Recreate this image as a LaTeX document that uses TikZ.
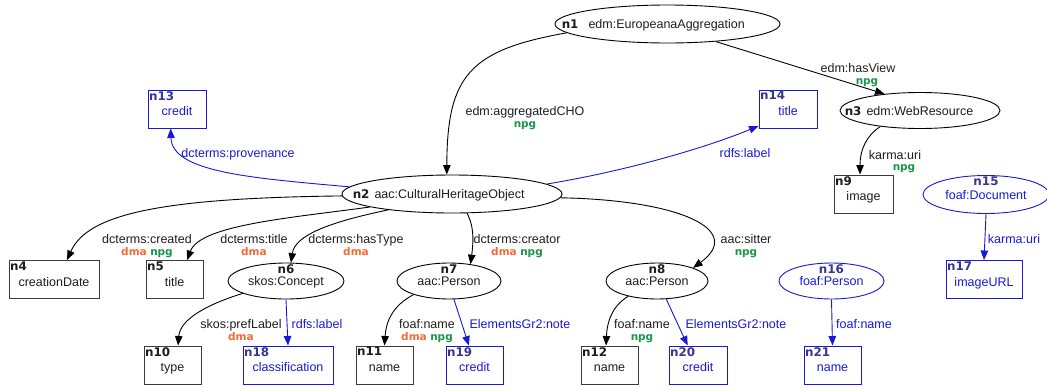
\documentclass[tikz,border=0pt]{standalone}
\usepackage{fontspec}
\setmainfont{Liberation Sans}
\newfontfamily\dvsans{DejaVu Sans}
\usetikzlibrary{shapes.geometric,arrows.meta}

\definecolor{ink}{RGB}{30,30,30}
\definecolor{linkblue}{RGB}{25,25,215}
\definecolor{idnavy}{RGB}{55,55,140}
\definecolor{dmaorange}{RGB}{245,105,55}
\definecolor{npggreen}{RGB}{25,150,70}
\definecolor{boxgray}{RGB}{60,60,60}

\newcommand{\rdffont}{\fontsize{12.5}{14}\selectfont}
\newcommand{\edgefont}{\fontsize{12.5}{11.5}\selectfont}
\newcommand{\nid}[1]{{\dvsans\bfseries\fontsize{11.9}{12}\selectfont\color{ink}#1}}
\newcommand{\nidb}[1]{{\dvsans\bfseries\fontsize{11.9}{12}\selectfont\color{idnavy}#1}}
\newcommand{\srcdma}{{\dvsans\bfseries\fontsize{10.5}{11.5}\selectfont\color{dmaorange}dma}}
\newcommand{\srcnpg}{{\dvsans\bfseries\fontsize{10.5}{11.5}\selectfont\color{npggreen}npg}}

\begin{document}
\begin{tikzpicture}[x=1pt,y=1pt,
  classnode/.style={ellipse, draw=black, line width=0.9pt, inner sep=0pt,
    text height=11pt, text depth=2pt, font=\rdffont, text=ink},
  bclassnode/.style={classnode, draw=linkblue, text=linkblue},
  litnode/.style={rectangle, draw=boxgray, line width=0.95pt, minimum height=38pt,
    inner sep=0pt, text height=15pt, text depth=2pt, font=\rdffont, text=ink},
  blitnode/.style={litnode, draw=linkblue, text=linkblue},
  idcorner/.style={anchor=north west, inner sep=1.5pt},
  idtop/.style={anchor=north, inner sep=0pt, yshift=-2pt},
  hdr/.style={anchor=west, inner sep=0pt, text height=11pt, text depth=2pt,
    font=\rdffont, text=ink},
  elab/.style={anchor=north, inner sep=0pt, align=center, font=\edgefont, text=ink},
  belab/.style={elab, text=linkblue},
  rel/.style={line width=0.9pt, draw=black, -{Triangle[length=9.5pt,width=7.5pt]}},
  brel/.style={rel, draw=linkblue},
]
\fill[white] (0,0) rectangle (1047,-389);
\useasboundingbox (0,0) rectangle (1047,-389);

% resource classes
\node[classnode, minimum width=225pt, minimum height=38pt,
  label={[hdr, xshift=7pt]west:\nid{n1}\hspace{10pt}edm:EuropeanaAggregation}] (n1) at (667.5,-24) {};
\node[classnode, minimum width=220pt, minimum height=38pt,
  label={[hdr, xshift=11pt]west:\nid{n2}\hspace{5pt}aac:CulturalHeritageObject}] (n2) at (452,-194) {};
\node[classnode, minimum width=160pt, minimum height=36pt,
  label={[hdr, xshift=5pt]west:\nid{n3}\hspace{5pt}edm:WebResource}] (n3) at (920,-110.5) {};
\node[classnode, minimum width=116pt, minimum height=36pt,
  label={[idtop]north:\nid{n6}}] (n6) at (286,-281) {skos:Concept};
\node[classnode, minimum width=104pt, minimum height=36pt,
  label={[idtop]north:\nid{n7}}] (n7) at (449,-281) {aac:Person};
\node[classnode, minimum width=102pt, minimum height=36pt,
  label={[idtop]north:\nid{n8}}] (n8) at (657,-281) {aac:Person};
\node[bclassnode, minimum width=126pt, minimum height=38pt,
  label={[idtop]north:\nidb{n15}}] (n15) at (986,-194.5) {foaf:Document};
\node[bclassnode, minimum width=105pt, minimum height=36pt,
  label={[idtop]north:\nidb{n16}}] (n16) at (831.5,-281) {foaf:Person};

% literal values
\node[blitnode, minimum width=58pt, label={[idcorner]north west:\nidb{n13}}] (n13) at (177,-109) {credit};
\node[blitnode, minimum width=58pt, label={[idcorner]north west:\nidb{n14}}] (n14) at (788,-109) {title};
\node[litnode, minimum width=59pt, label={[idcorner]north west:\nid{n9}}] (n9) at (863.5,-194) {image};
\node[litnode, minimum width=90pt, label={[idcorner]north west:\nid{n4}}] (n4) at (54,-279.5) {creationDate};
\node[litnode, minimum width=57pt, label={[idcorner]north west:\nid{n5}}] (n5) at (174.5,-279.5) {title};
\node[blitnode, minimum width=76pt, label={[idcorner]north west:\nidb{n17}}] (n17) at (984,-279.5) {imageURL};
\node[litnode, minimum width=57pt, label={[idcorner]north west:\nid{n10}}] (n10) at (172.5,-365) {type};
\node[blitnode, minimum width=90pt, label={[idcorner]north west:\nidb{n18}}] (n18) at (288,-365) {classification};
\node[litnode, minimum width=57pt, label={[idcorner]north west:\nid{n11}}] (n11) at (384.5,-365) {name};
\node[blitnode, minimum width=57pt, label={[idcorner]north west:\nidb{n19}}] (n19) at (474.5,-365) {credit};
\node[litnode, minimum width=57pt, label={[idcorner]north west:\nid{n12}}] (n12) at (609.5,-365) {name};
\node[blitnode, minimum width=58pt, label={[idcorner]north west:\nidb{n20}}] (n20) at (698,-365) {credit};
\node[blitnode, minimum width=57pt, label={[idcorner]north west:\nidb{n21}}] (n21) at (832.5,-365) {name};

% properties
\draw[rel] (n1.185) .. controls (470,-50) and (447,-75) .. (n2.105);
\draw[rel] (n1.340) -- (n3.155);
\draw[rel] (n3.202) .. controls (866,-136) and (860,-150) .. (n9.100);
\draw[brel] (n2.176) .. controls (250,-178) and (172,-172) .. (n13.252);
\draw[brel] (n2.6) .. controls (620,-172) and (700,-150) .. (n14.210);
\draw[rel] (n2.181) .. controls (170,-198) and (88,-212) .. (n4.56);
\draw[rel] (n2.189) .. controls (290,-218) and (200,-225) .. (n5.57);
\draw[rel] (n2.194) .. controls (330,-222) and (295,-235) .. (n6.75);
\draw[rel] (n2.308) .. controls (475,-228) and (473,-245) .. (n7.38);
\draw[rel] (n2.358) .. controls (680,-200) and (745,-230) .. (n8.20);
\draw[rel] (n6.196) .. controls (205,-305) and (180,-320) .. (n10.74);
\draw[brel] (n6.south) -- (n18.north);
\draw[rel] (n7.201) .. controls (392,-306) and (386,-322) .. (n11.north);
\draw[brel] (n7.285) -- (n19.106);
\draw[rel] (n8.208) .. controls (612,-306) and (607,-322) .. (n12.100);
\draw[brel] (n8.297) -- (n20.118);
\draw[brel] (n16.south) -- (n21.north);
\draw[brel] (n15.south) -- (n17.north);

% property labels with their sources
\node[elab] (l1) at (525,-106.7) {edm:aggregatedCHO\\\srcnpg};
\node[elab] (l2) at (858,-63.5) {edm:hasView\\\hspace*{18pt}\srcnpg};
\node[elab] (l3) at (895,-150) {karma:uri\\\hspace*{18pt}\srcnpg};
\node[belab] (l4) at (238,-148) {dcterms:provenance};
\node[belab] (l5) at (745,-148) {rdfs:label};
\node[elab] (l6) at (147,-234.7) {dcterms:created\\\srcdma\ \srcnpg};
\node[elab] (l7) at (254,-234.7) {dcterms:title\\\srcdma};
\node[elab] (l8) at (356,-234.7) {dcterms:hasType\\\srcdma};
\node[elab] (l9) at (517,-234.7) {dcterms:creator\\\srcdma\ \srcnpg};
\node[elab] (l10) at (746,-234.7) {aac:sitter\\\srcnpg};
\node[elab] (l11) at (241,-319.5) {skos:prefLabel\\\srcdma};
\node[belab] (l12) at (317,-319.5) {rdfs:label};
\node[elab] (l13) at (427,-319.5) {foaf:name\\\srcdma\ \srcnpg};
\node[belab] (l14) at (520,-319.5) {ElementsGr2:note};
\node[elab] (l15) at (642,-319.5) {foaf:name\\\srcnpg};
\node[belab] (l16) at (736,-319.5) {ElementsGr2:note};
\node[belab] (l17) at (864,-319.5) {foaf:name};
\node[belab] (l18) at (1014,-234.3) {karma:uri};
\end{tikzpicture}
\end{document}
